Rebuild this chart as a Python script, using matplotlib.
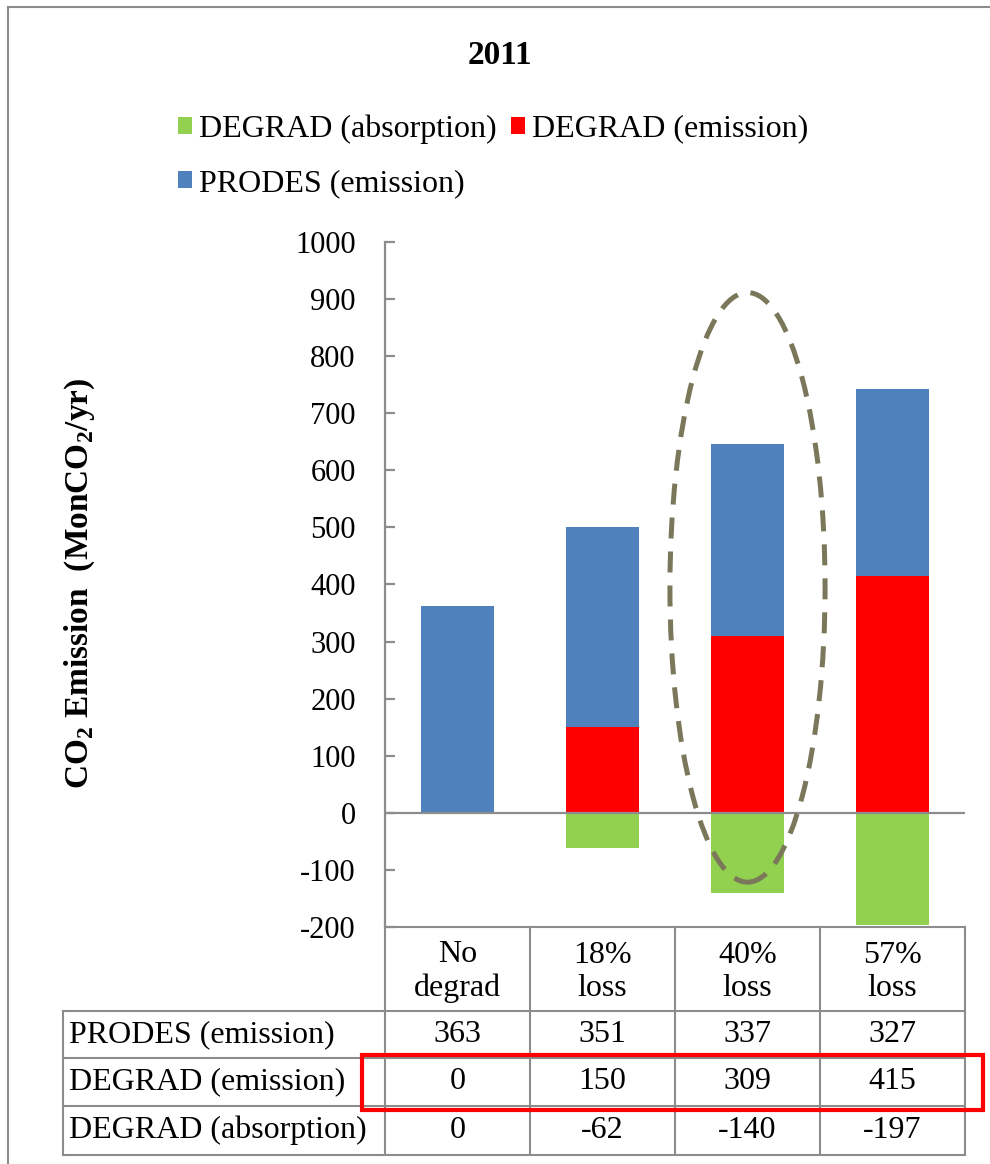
import numpy as np
import matplotlib
matplotlib.use("Agg")
import matplotlib.pyplot as plt
from matplotlib.patches import Ellipse, Rectangle
from matplotlib.lines import Line2D
from matplotlib.transforms import blended_transform_factory

plt.rcParams['font.family'] = ['Liberation Serif', 'DejaVu Serif']
plt.rcParams['mathtext.fontset'] = 'custom'
plt.rcParams['mathtext.rm'] = 'Liberation Serif'
plt.rcParams['mathtext.bf'] = 'Liberation Serif:bold'
plt.rcParams['axes.unicode_minus'] = False

# scenario data (MtCO2/yr)
categories = ["No\ndegrad", "18%\nloss", "40%\nloss", "57%\nloss"]
prodes_emission = [363, 351, 337, 327]
degrad_emission = [0, 150, 309, 415]
degrad_absorption = [0, -62, -140, -197]
row_labels = ["PRODES (emission)", "DEGRAD (emission)", "DEGRAD (absorption)"]
yticks = list(range(-200, 1001, 100))

BLUE = "#4f81bd"
RED = "#ff0000"
GREEN = "#92d050"
GRID = "#8c8c8c"
FS = 23

fig = plt.figure(figsize=(9.9, 11.64), dpi=100)
ax = fig.add_axes([385/990, 1 - 927/1164, 580/990, 685/1164])

x = np.arange(len(categories))
b_abs = ax.bar(x, degrad_absorption, width=0.5, color=GREEN, zorder=2)
b_em = ax.bar(x, degrad_emission, width=0.5, color=RED, zorder=2)
b_pr = ax.bar(x, prodes_emission, width=0.5, bottom=degrad_emission, color=BLUE, zorder=2)
ax.axhline(0, color=GRID, lw=1.6, zorder=3)

ax.set_xlim(-0.5, len(categories) - 0.5)
ax.set_ylim(-200, 1000)
ax.set_yticks(yticks)
ax.set_xticks([])
for s in ["top", "right", "bottom"]:
    ax.spines[s].set_visible(False)
ax.spines["left"].set_color(GRID)
ax.spines["left"].set_linewidth(1.6)
ax.tick_params(axis="y", direction="in", length=7, width=1.6, color=GRID,
               labelsize=22, pad=21)

# highlight the 40% scenario
ell = Ellipse((2, 395), width=1.07, height=1033, fill=False, edgecolor="#7b775a",
              lw=3.6, linestyle=(0, (4.2, 2.6)), zorder=4, clip_on=False)
ax.add_patch(ell)

# data table under the plot
tr = blended_transform_factory(ax.transData, ax.transAxes)
edges = np.arange(len(categories) + 1) - 0.5
label_left = -0.555
row_bottoms = [0, -0.1226, -0.1912, -0.2613, -0.3328]
line_kw = dict(color=GRID, lw=1.5, clip_on=False)

for e in edges:
    ax.add_line(Line2D([e, e], [row_bottoms[0], row_bottoms[-1]], transform=tr, **line_kw))
ax.add_line(Line2D([label_left, label_left], [row_bottoms[1], row_bottoms[-1]],
                   transform=ax.transAxes, **line_kw))
ax.add_line(Line2D([edges[0], edges[-1]], [0, 0], transform=tr, **line_kw))
for yb in row_bottoms[1:]:
    ax.add_line(Line2D([label_left, 1.0], [yb, yb], transform=ax.transAxes, **line_kw))

for i, c in enumerate(categories):
    ax.text(i, (row_bottoms[0] + row_bottoms[1]) / 2 - 0.004, c, transform=tr,
            ha="center", va="center", fontsize=FS, linespacing=1.2)

rows = [prodes_emission, degrad_emission, degrad_absorption]
for r, (lab, vals) in enumerate(zip(row_labels, rows)):
    yc = (row_bottoms[r + 1] + row_bottoms[r + 2]) / 2
    ax.text(label_left + 0.01, yc, lab, transform=ax.transAxes, ha="left",
            va="center", fontsize=FS)
    for i, v in enumerate(vals):
        ax.text(i, yc, str(v), transform=tr, ha="center", va="center", fontsize=FS)

# red box around the DEGRAD (emission) row
ax.add_patch(Rectangle((-0.04, row_bottoms[3] - 0.006), 1.071, 0.08,
                       transform=ax.transAxes, fill=False, edgecolor=RED, lw=3,
                       clip_on=False, zorder=5))

fig.text(500/990, 1 - 55/1164, "2011", ha="center", va="center", fontsize=24,
         fontweight="bold")
fig.text(80/990, 1 - 583/1164, r"CO$_\mathbf{2}$ Emission  (MonCO$_\mathbf{2}$/yr)",
         rotation=90, ha="center", va="center", fontsize=24, fontweight="bold")

fig.legend([b_abs, b_pr, b_em], ["DEGRAD (absorption)", "PRODES (emission)",
                                 "DEGRAD (emission)"],
           loc="upper left", bbox_to_anchor=(178/990, 1 - 114/1164), ncol=2,
           frameon=False, fontsize=FS, handlelength=0.45, handleheight=0.45,
           handletextpad=0.2, columnspacing=0.45, labelspacing=0.8,
           borderpad=0, borderaxespad=0)

# outer frame (left and top edges)
fig.add_artist(Line2D([8/990, 8/990], [0, 1 - 7/1164], transform=fig.transFigure,
                      color="#8c8c8c", lw=1.5))
fig.add_artist(Line2D([8/990, 1], [1 - 7/1164, 1 - 7/1164], transform=fig.transFigure,
                      color="#8c8c8c", lw=1.5))

fig.savefig("out.png", dpi=100, facecolor="white")
